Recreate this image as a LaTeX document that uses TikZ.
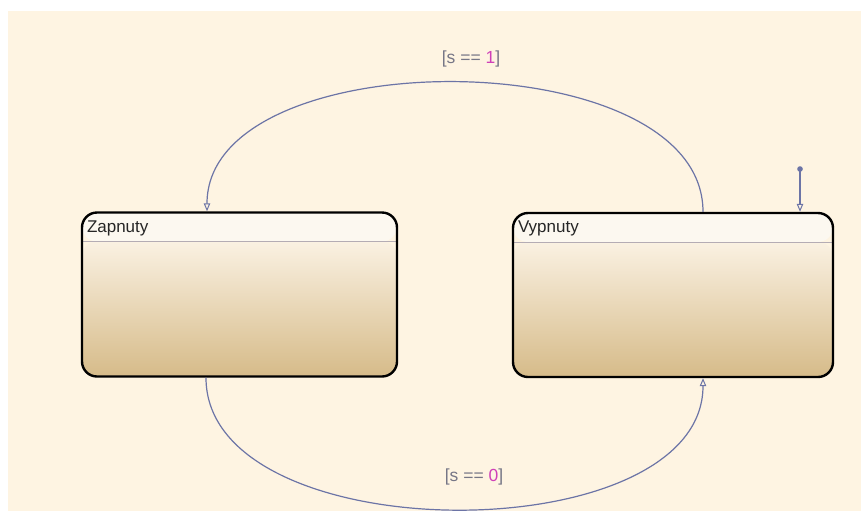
\documentclass[tikz,border=0pt]{standalone}
\usepackage{fontspec}
\setmainfont{Liberation Sans}
\usetikzlibrary{arrows.meta,calc}
\definecolor{bgcream}{HTML}{FEF4E2}
\definecolor{hdr}{HTML}{FCF8F0}
\definecolor{bodytop}{HTML}{FAF1E2}
\definecolor{bodybot}{HTML}{D6BB89}
\definecolor{sepline}{HTML}{B4ACB4}
\definecolor{conn}{HTML}{6C74A6}
\definecolor{lblgray}{HTML}{767686}
\definecolor{lblpink}{HTML}{D040B8}
\tikzset{
  statebox/.style={draw=black, line width=2.4pt, rounded corners=15pt,
    minimum height=164pt, inner sep=0pt,
    path picture={
      \fill[hdr] (path picture bounding box.north west) rectangle ([yshift=-29pt]path picture bounding box.north east);
      \shade[top color=bodytop, bottom color=bodybot] ([yshift=-29pt]path picture bounding box.north west) rectangle (path picture bounding box.south east);
      \draw[sepline, line width=0.9pt] ([yshift=-29pt]path picture bounding box.north west) -- ([yshift=-29pt]path picture bounding box.north east);
    }},
  statename/.style={anchor=north west, inner sep=0pt, font=\fontsize{17}{20}\selectfont, text=black!85},
  trans/.style={draw=conn, line width=1.2pt, -{Triangle[open, length=8pt, width=6.5pt, line width=1pt]}},
  guard/.style={font=\fontsize{17.5}{20}\selectfont, text=lblgray, inner sep=0pt},
}
\begin{document}
\begin{tikzpicture}[x=1pt, y=-1pt]
  \useasboundingbox (0,0) rectangle (861,512);
  \fill[white] (0,0) rectangle (861,512);
  \fill[bgcream] (8,11) rectangle (861,511);

  \node[statebox, minimum width=315pt] (zap) at (239.5,294.5) {};
  \node[statebox, minimum width=320pt] (vyp) at (673,295) {};
  \node[statename] (zapname) at ([xshift=6pt,yshift=-9pt]zap.north west) {Zapnuty};
  \node[statename] (vypname) at ([xshift=6pt,yshift=-9pt]vyp.north west) {Vypnuty};

  % top transition: Vypnuty -> Zapnuty
  \coordinate (vt) at ([xshift=30pt]vyp.north);
  \coordinate (zt) at ([xshift=-32.5pt]zap.north);
  \draw[trans] (vt) .. controls ($(vt)+(0,-172)$) and ($(zt)+(0,-172)$) .. (zt);
  \node[guard] (g1) at (471,59) {[s == \textcolor{lblpink}{1}]};

  % bottom transition: Zapnuty -> Vypnuty
  \coordinate (zb) at ([xshift=-33.5pt]zap.south);
  \coordinate (vb) at ([xshift=30pt]vyp.south);
  \draw[trans] (zb) .. controls ($(zb)+(0,175)$) and ($(vb)+(0,175)$) .. (vb);
  \node[guard] (g0) at (474,477) {[s == \textcolor{lblpink}{0}]};

  % default transition
  \coordinate (dflt) at (800,169);
  \fill[conn] (dflt) circle (2.8pt);
  \draw[trans] (dflt) -- (dflt |- vyp.north);
\end{tikzpicture}
\end{document}
